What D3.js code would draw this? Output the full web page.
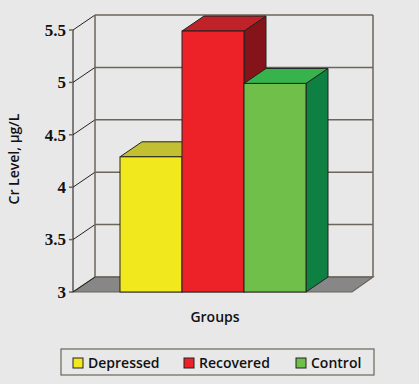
<!DOCTYPE html>
<html lang="en">
<head>
    <meta charset="utf-8">
    <title>Cr Level by Group</title>
    <script type="text/javascript" src="https://cdn.jsdelivr.net/npm/d3@7/dist/d3.min.js"></script>
    <style>
     body { margin: 0; background: #e8e8e8; }
     svg { display: block; }
     .title { font-family: "Open Sans", sans-serif; font-weight: 600; fill: #111; }
    </style>
</head>
<body>
    <div id="chart"></div>
    <script type="text/javascript">
        // data
        const groups = ["Depressed", "Recovered", "Control"];
        const values = [4.29, 5.49, 4.99];
        const tickValues = [3, 3.5, 4, 4.5, 5, 5.5];
        const tickLabels = ["3", "3.5", "4", "4.5", "5", "5.5"];

        const width = 419;
        const height = 384;
        const axisX = 73;
        const dx = 22, dy = -15;     // depth offset of the 3d box
        const wallRight = 373;

        const faceColors = {
            Depressed: { front: "#f2e81e", top: "#c2c032", side: "#a09a18" },
            Recovered: { front: "#ec2228", top: "#c0222a", side: "#84141a" },
            Control:   { front: "#6fbf4a", top: "#36b34a", side: "#0e8042" }
        };

        const svg = d3.select("#chart")
            .append("svg")
            .attr("width", width)
            .attr("height", height);

        svg.append("rect").attr("width", width).attr("height", height).attr("fill", "#e8e8e8");

        const yScale = d3.scaleLinear()
                        .domain([3, 5.5])
                        .range([292, 30]);

        const xScale = d3.scaleBand()
                        .domain(groups)
                        .range([120, 306])
                        .padding(0);

        const gridColor = "#6b655a";

        // floor
        svg.append("polygon")
            .attr("points", [[axisX, yScale(3)], [352, yScale(3)], [wallRight, yScale(3) + dy], [axisX + dx, yScale(3) + dy]].join(" "))
            .attr("fill", "#878787")
            .attr("stroke", gridColor)
            .attr("stroke-width", 1.2);

        // back wall gridlines
        svg.append("g")
            .selectAll("line")
            .data(tickValues)
            .enter()
            .append("line")
                .attr("x1", axisX + dx)
                .attr("x2", wallRight)
                .attr("y1", d => yScale(d) + dy)
                .attr("y2", d => yScale(d) + dy)
                .attr("stroke", gridColor)
                .attr("stroke-width", 1.5);

        // left wall diagonals
        svg.append("g")
            .selectAll("line")
            .data(tickValues)
            .enter()
            .append("line")
                .attr("x1", axisX)
                .attr("x2", axisX + dx)
                .attr("y1", d => yScale(d))
                .attr("y2", d => yScale(d) + dy)
                .attr("stroke", "#222")
                .attr("stroke-width", 1);

        // back wall verticals
        [axisX + dx, wallRight].forEach(x => {
            svg.append("line")
                .attr("x1", x).attr("x2", x)
                .attr("y1", yScale(5.5) + dy).attr("y2", yScale(3) + dy)
                .attr("stroke", gridColor)
                .attr("stroke-width", 1.5);
        });

        // bars (side, top, front)
        const bars = svg.append("g").attr("class", "bars");
        groups.forEach((g, i) => {
            const x0 = xScale(g);
            const x1 = x0 + xScale.bandwidth();
            const yt = yScale(values[i]);
            const yb = yScale(3);
            const c = faceColors[g];
            bars.append("polygon")
                .attr("points", [[x1, yt], [x1 + dx, yt + dy], [x1 + dx, yb + dy], [x1, yb]].join(" "))
                .attr("fill", c.side).attr("stroke", "#222").attr("stroke-width", 1);
            bars.append("polygon")
                .attr("points", [[x0, yt], [x0 + dx, yt + dy], [x1 + dx, yt + dy], [x1, yt]].join(" "))
                .attr("fill", c.top).attr("stroke", "#222").attr("stroke-width", 1);
        });
        groups.forEach((g, i) => {
            const x0 = xScale(g);
            const yt = yScale(values[i]);
            bars.append("rect")
                .attr("x", x0)
                .attr("y", yt)
                .attr("width", xScale.bandwidth())
                .attr("height", yScale(3) - yt)
                .attr("fill", faceColors[g].front)
                .attr("stroke", "#222")
                .attr("stroke-width", 1);
        });

        // front y axis
        svg.append("line")
            .attr("x1", axisX).attr("x2", axisX)
            .attr("y1", yScale(5.5)).attr("y2", yScale(3))
            .attr("stroke", "#111").attr("stroke-width", 1);

        svg.append("g")
            .selectAll("line")
            .data(tickValues)
            .enter()
            .append("line")
                .attr("x1", axisX - 4).attr("x2", axisX)
                .attr("y1", d => yScale(d)).attr("y2", d => yScale(d))
                .attr("stroke", gridColor).attr("stroke-width", 1.5);

        svg.append("g")
            .selectAll("text")
            .data(tickValues)
            .enter()
            .append("text")
                .attr("font-family", "'Liberation Serif', 'Times New Roman', serif")
                .attr("font-weight", "bold")
                .attr("font-size", 17)
                .attr("fill", "#111")
                .attr("x", axisX - 7)
                .attr("y", d => yScale(d))
                .attr("dy", "0.34em")
                .attr("text-anchor", "end")
                .text((d, i) => tickLabels[i]);

        // axis titles
        svg.append("text")
            .attr("class", "title")
            .attr("transform", "translate(19,159) rotate(-90)")
            .attr("text-anchor", "middle")
            .style("font-size", "14px")
            .text("Cr Level, µg/L");

        svg.append("text")
            .attr("class", "title")
            .attr("x", 215)
            .attr("y", 322)
            .attr("text-anchor", "middle")
            .style("font-size", "14px")
            .text("Groups");

        // legend
        const legend = svg.append("g");
        legend.append("rect")
            .attr("x", 61).attr("y", 349)
            .attr("width", 313).attr("height", 26)
            .attr("fill", "none")
            .attr("stroke", gridColor)
            .attr("stroke-width", 1.2);

        const legendX = [73, 184, 296];
        const items = legend.selectAll("g.item")
            .data(groups)
            .enter()
            .append("g")
                .attr("class", "item")
                .attr("transform", (d, i) => "translate(" + legendX[i] + ",358)");
        items.append("rect")
            .attr("width", 10).attr("height", 10)
            .attr("fill", d => faceColors[d].front)
            .attr("stroke", "#222").attr("stroke-width", 1);
        items.append("text")
            .attr("class", "title")
            .attr("x", 15)
            .attr("y", 10)
            .style("font-size", "14px")
            .text(d => d);
    </script>
</body>
</html>
